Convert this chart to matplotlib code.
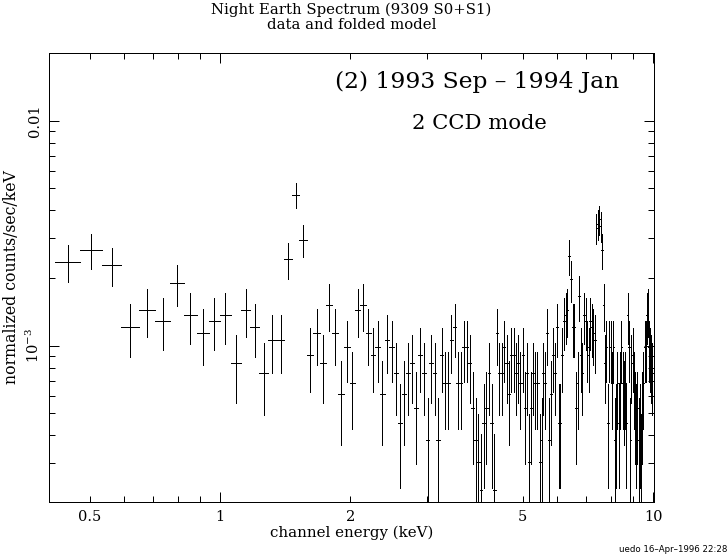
import numpy as np
import matplotlib
matplotlib.use("Agg")
import matplotlib.pyplot as plt
from matplotlib.ticker import FixedLocator, FixedFormatter, NullFormatter

# ==========================================
# NIGHT EARTH SPECTRUM - DATA AND FOLDED MODEL
# ==========================================

# channel energies (keV), bin centres of the grouped channels
energy = [
    0.4455, 0.5039, 0.5623, 0.6207, 0.6791, 0.7375, 0.7959, 0.8543, 0.9127, 0.9711,
    1.0295, 1.0879, 1.1463, 1.2047, 1.2631, 1.3215, 1.3799, 1.4383, 1.4967, 1.5551,
    1.6135, 1.6719, 1.7303, 1.7887, 1.8471, 1.9055, 1.9639, 2.0223, 2.0807, 2.1391,
    2.1975, 2.2559, 2.3143, 2.3727, 2.4311, 2.4895, 2.5479, 2.6063, 2.6647, 2.7231,
    2.7815, 2.8399, 2.8983, 2.9567, 3.0151, 3.0735, 3.1319, 3.1903, 3.2487, 3.3071,
    3.3655, 3.4239, 3.4823, 3.5407, 3.5991, 3.6575, 3.7159, 3.7743, 3.8327, 3.8911,
    3.9495, 4.0079, 4.0663, 4.1247, 4.1831, 4.2415, 4.2999, 4.3583, 4.4167, 4.4751,
    4.5335, 4.5919, 4.6503, 4.7087, 4.7671, 4.8255, 4.8839, 4.9423, 5.0007, 5.0591,
    5.1175, 5.1759, 5.2343, 5.2927, 5.3511, 5.4095, 5.4679, 5.5263, 5.5847, 5.6431,
    5.7015, 5.7599, 5.8183, 5.8767, 5.9351, 5.9935, 6.0519, 6.1103, 6.1687, 6.2271,
    6.2855, 6.3439, 6.4023, 6.4607, 6.5191, 6.5775, 6.6359, 6.6943, 6.7527, 6.8111,
    6.8695, 6.9279, 6.9863, 7.0447, 7.1031, 7.1615, 7.2199, 7.2783, 7.3367, 7.3951,
    7.4535, 7.5119, 7.5703, 7.6287, 7.6871, 7.7455, 7.8039, 7.8623, 7.9207, 7.9791,
    8.0375, 8.0959, 8.1543, 8.2127, 8.2711, 8.3295, 8.3879, 8.4463, 8.5047, 8.5631,
    8.6215, 8.6799, 8.7383, 8.7967, 8.8551, 8.9135, 8.9719, 9.0303, 9.0887, 9.1471,
    9.2055, 9.2639, 9.3223, 9.3807, 9.4391, 9.4975, 9.5559, 9.6143, 9.6727, 9.7311,
    9.7895, 9.8479, 9.9063, 9.9647,
]
half_width = 0.0292  # keV

# normalized counts/sec/keV in units of 1e-3
rate = [
    2.353, 2.657, 2.277, 1.214, 1.442, 1.290, 1.898, 1.366, 1.139, 1.290,
    1.366, 0.835, 1.442, 1.214, 0.759, 1.063, 1.063, 2.429, 4.674, 2.960,
    0.911, 1.139, 0.835, 1.518, 1.139, 0.607, 0.987, 0.683, 1.442, 1.518,
    1.139, 0.911, 0.987, 0.607, 1.063, 0.987, 0.759, 0.455, 0.607, 0.759,
    0.835, 0.531, 0.911, 0.759, 0.380, 0.835, 0.759, 0.380, 0.911, 0.683,
    0.683, 1.063, 1.214, 0.683, 0.683, 0.987, 0.987, 0.835, 0.531, 0.380,
    0.304, 0.228, 0.455, 0.531, 0.759, 0.455, 0.228, 1.139, 0.759, 0.759,
    0.987, 0.835, 0.607, 0.911, 0.911, 0.759, 0.835, 0.683, 0.911, 0.531,
    0.759, 0.304, 0.531, 0.759, 0.683, 0.683, 0.304, 0.380, 0.759, 0.683,
    1.139, 0.380, 0.607, 0.911, 0.759, 1.214, 0.455, 0.455, 0.911, 1.290,
    1.366, 1.442, 2.505, 1.973, 1.214, 1.214, 0.531, 0.683, 1.670, 0.911,
    0.759, 1.366, 1.290, 0.987, 0.911, 1.290, 1.214, 1.139, 1.063, 3.340,
    3.491, 3.643, 3.416, 2.657, 1.518, 0.835, 0.987, 0.455, 0.987, 0.987,
    0.683, 0.987, 0.380, 0.455, 0.683, 0.455, 0.683, 0.987, 0.683, 0.607,
    0.683, 0.455, 1.366, 0.987, 0.380, 0.835, 0.911, 0.683, 0.531, 0.455,
    0.531, 0.380, 0.455, 0.304, 0.531, 0.683, 0.987, 0.987, 1.366, 1.442,
    0.987, 0.911, 0.835, 0.759,
]

rate_err = [
    0.440, 0.465, 0.433, 0.326, 0.352, 0.335, 0.398, 0.344, 0.318, 0.335,
    0.344, 0.279, 0.352, 0.326, 0.268, 0.308, 0.308, 0.446, 0.600, 0.489,
    0.289, 0.318, 0.279, 0.360, 0.318, 0.246, 0.299, 0.257, 0.352, 0.360,
    0.318, 0.289, 0.299, 0.246, 0.308, 0.299, 0.268, 0.221, 0.246, 0.268,
    0.279, 0.234, 0.289, 0.268, 0.208, 0.279, 0.268, 0.208, 0.289, 0.257,
    0.257, 0.308, 0.326, 0.257, 0.257, 0.299, 0.299, 0.279, 0.234, 0.208,
    0.194, 0.178, 0.221, 0.234, 0.268, 0.221, 0.178, 0.318, 0.268, 0.268,
    0.299, 0.279, 0.246, 0.289, 0.289, 0.268, 0.279, 0.257, 0.289, 0.234,
    0.268, 0.194, 0.234, 0.268, 0.257, 0.257, 0.194, 0.208, 0.268, 0.257,
    0.318, 0.208, 0.246, 0.289, 0.268, 0.326, 0.221, 0.221, 0.289, 0.335,
    0.344, 0.352, 0.453, 0.405, 0.326, 0.326, 0.234, 0.257, 0.376, 0.289,
    0.268, 0.344, 0.335, 0.299, 0.289, 0.335, 0.326, 0.318, 0.308, 0.518,
    0.529, 0.539, 0.523, 0.465, 0.360, 0.279, 0.299, 0.221, 0.299, 0.299,
    0.257, 0.299, 0.208, 0.221, 0.257, 0.221, 0.257, 0.299, 0.257, 0.246,
    0.257, 0.221, 0.344, 0.299, 0.208, 0.279, 0.289, 0.257, 0.234, 0.221,
    0.234, 0.208, 0.221, 0.194, 0.234, 0.257, 0.299, 0.299, 0.344, 0.352,
    0.299, 0.289, 0.279, 0.268,
]

x_labels = {0.5: "0.5", 2: "2", 5: "5"}

serif = "DejaVu Serif"
plt.rcParams["font.family"] = serif
plt.rcParams["mathtext.fontset"] = "dejavuserif"

fig = plt.figure(figsize=(7.28, 5.57), dpi=100)
ax = fig.add_axes([49 / 728, 55 / 557, 605 / 728, 449 / 557])

lw = 0.72  # one pixel at 100 dpi

eb = ax.errorbar(
    energy,
    np.array(rate) * 1e-3,
    xerr=half_width,
    yerr=np.array(rate_err) * 1e-3,
    fmt="none",
    ecolor="black",
    elinewidth=lw,
    capsize=0,
)
for coll in eb[2]:
    coll.set_antialiased(False)

ax.set_xscale("log")
ax.set_yscale("log")
ax.set_xlim(0.403, 10.05)
ax.set_ylim(2.02e-4, 2.0e-2)

# x ticks: long at 1 and 10, labelled minors at 0.5, 2, 5
ax.xaxis.set_major_locator(FixedLocator([1, 10]))
ax.xaxis.set_major_formatter(FixedFormatter(["1", "10"]))
minors = [0.5, 0.6, 0.7, 0.8, 0.9, 2, 3, 4, 5, 6, 7, 8, 9]
ax.xaxis.set_minor_locator(FixedLocator(minors))
ax.xaxis.set_minor_formatter(FixedFormatter([x_labels.get(m, "") for m in minors]))

ax.yaxis.set_major_locator(FixedLocator([1e-3, 1e-2]))
ax.yaxis.set_major_formatter(FixedFormatter([r"$\mathregular{10^{-3}}$", "0.01"]))
ymin = [3e-4, 4e-4, 5e-4, 6e-4, 7e-4, 8e-4, 9e-4,
        2e-3, 3e-3, 4e-3, 5e-3, 6e-3, 7e-3, 8e-3, 9e-3]
ax.yaxis.set_minor_locator(FixedLocator(ymin))
ax.yaxis.set_minor_formatter(NullFormatter())

ax.tick_params(which="both", direction="in", top=True, right=True,
               width=lw, labelsize=10.5)
ax.tick_params(which="major", length=7)
ax.tick_params(which="minor", length=4)
ax.tick_params(axis="x", which="both", pad=6)
ax.tick_params(axis="y", which="both", pad=5)
for lab in ax.get_yticklabels():
    lab.set_rotation(90)
    lab.set_va("center")

for sp in ax.spines.values():
    sp.set_linewidth(lw)
    sp.set_antialiased(False)

# titles and labels
cx = (49 + 654) / 2 / 728
fig.text(cx, 1 - 10 / 557, "Night Earth Spectrum (9309 S0+S1)",
         ha="center", va="center", fontsize=10.7)
fig.text(cx, 1 - 25 / 557, "data and folded model",
         ha="center", va="center", fontsize=10.7)
fig.text(cx, 1 - 533 / 557, "channel energy (keV)",
         ha="center", va="center", fontsize=10.8)
fig.text(12 / 728, 1 - 277 / 557, "normalized counts/sec/keV",
         ha="center", va="center", rotation=90, fontsize=11.3)

ax.text(0.707, 0.935, "(2) 1993 Sep \u2013 1994 Jan", transform=ax.transAxes,
        ha="center", va="center", fontsize=16.8)
ax.text(0.712, 0.844, "2 CCD mode", transform=ax.transAxes,
        ha="center", va="center", fontsize=15.2)

fig.text(727 / 728, 1 - 550 / 557, "uedo 16\u2013Apr\u20131996 22:28",
         ha="right", va="center", fontsize=6.2, family="DejaVu Sans")

plt.savefig("out.png", dpi=100)
